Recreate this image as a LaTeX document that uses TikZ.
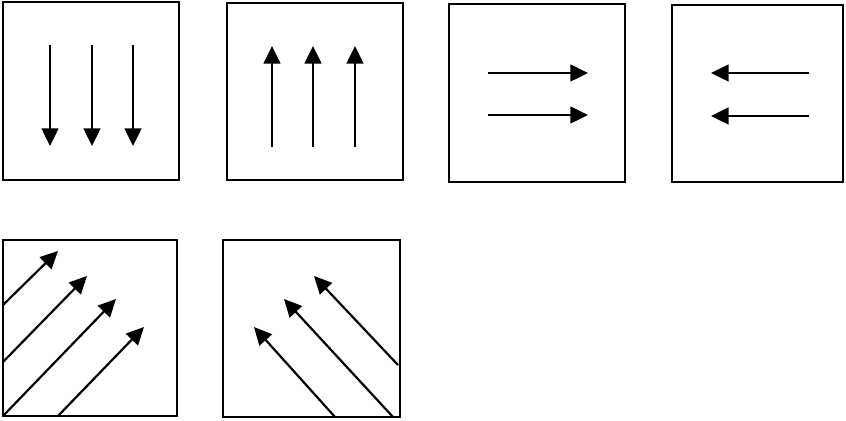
\documentclass[tikz,border=0pt]{standalone}
\usetikzlibrary{arrows.meta}

\tikzset{
  panel/.style={line width=1.6pt},
  flow/.style={line width=1.25pt, -{Triangle[width=9.5pt,length=10pt]}}
}

\begin{document}
\begin{tikzpicture}[x=0.02cm, y=-0.02cm]

  % === Field directions in six square panels (pixel grid, y downward) ===
  \useasboundingbox (0,0) rectangle (846,421);

  % Panel 1: downward
  \draw[panel] (3,2) rectangle (179,180);
  \foreach \x in {50,92,133} {
    \draw[flow] (\x,45) -- (\x,146);
  }

  % Panel 2: upward
  \draw[panel] (227,3) rectangle (403,180);
  \foreach \x in {272,313,355} {
    \draw[flow] (\x,147) -- (\x,46);
  }

  % Panel 3: to the right
  \draw[panel] (449,4) rectangle (625,182);
  \foreach \y in {73,115} {
    \draw[flow] (488,\y) -- (588,\y);
  }

  % Panel 4: to the left
  \draw[panel] (672,5) rectangle (843,182);
  \foreach \y in {73,116} {
    \draw[flow] (809,\y) -- (711,\y);
  }

  % Panel 5: up and to the right
  \draw[panel] (3,240) rectangle (177,416);
  \draw[flow] (3,305) -- (58,251);
  \draw[flow] (3,362) -- (87,276);
  \draw[flow] (3,416) -- (116,299);
  \draw[flow] (58,416) -- (144,327);

  % Panel 6: up and to the left
  \draw[panel] (223,240) rectangle (400,417);
  \draw[flow] (335,417) -- (254,327);
  \draw[flow] (393,417) -- (284,299);
  \draw[flow] (398,365) -- (314,276);

\end{tikzpicture}
\end{document}
